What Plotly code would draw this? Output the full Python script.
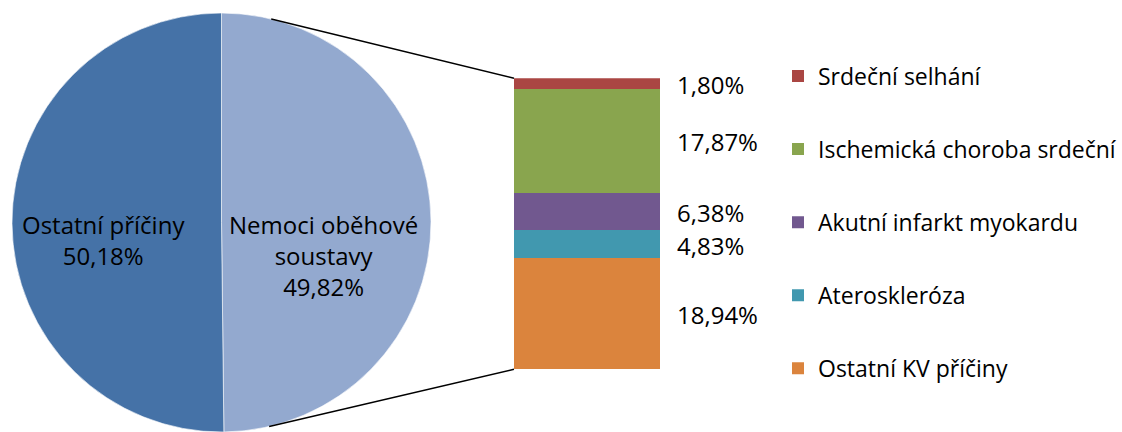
import math
import plotly.graph_objects as go

# ---------------- data ----------------
pie_labels = ["Nemoci oběhové soustavy", "Ostatní příčiny"]
pie_text_lines = [["Nemoci oběhové", "soustavy"], ["Ostatní příčiny"]]
pie_values = [49.82, 50.18]
pie_colors = ["#93A9CF", "#4572A7"]

bar_labels = ["Srdeční selhání", "Ischemická choroba srdeční", "Akutní infarkt myokardu",
              "Ateroskleróza", "Ostatní KV příčiny"]          # top -> bottom
bar_values = [1.80, 17.87, 6.38, 4.83, 18.94]
bar_colors = ["#AA4643", "#89A54E", "#71588F", "#4198AF", "#DB843D"]

def fmt(v):
    return f"{v:.2f}".replace(".", ",") + "%"

# ---------------- layout geometry (pixels) ----------------
W, H = 1122, 432
FONT = "Open Sans"
FS = 24
FS_LEG = 23

pie_cx, pie_r = 221.5, 209.5
pie_dom_x = [(pie_cx - pie_r) / W, (pie_cx + pie_r) / W]
pie_dom_y = [0, (2 * pie_r) / H]
pie_cy = H - pie_r  # from top

bar_left, bar_right = 514, 660
bar_top, bar_bottom = 78.3, 369.3
bar_dom_x = [bar_left / W, bar_right / W]
bar_dom_y = [1 - bar_bottom / H, 1 - bar_top / H]

fig = go.Figure()

fig.add_trace(go.Pie(
    labels=pie_labels, values=pie_values, sort=False, direction="clockwise", rotation=0,
    marker=dict(colors=pie_colors, line=dict(color="white", width=0.6)),
    textinfo="none", hoverinfo="label+percent", showlegend=False,
    domain=dict(x=pie_dom_x, y=pie_dom_y),
))

total = sum(bar_values)
# stack bottom -> top
n = len(bar_labels)
cum = 0.0
centers = {}
for i in reversed(range(n)):
    fig.add_trace(go.Bar(
        x=[0], y=[bar_values[i]], name=bar_labels[i], width=1,
        marker=dict(color=bar_colors[i], line=dict(width=0)),
        legendgroup=f"g{i}", legendrank=i, hoverinfo="name+y",
    ))
    centers[i] = cum + bar_values[i] / 2
    cum += bar_values[i]

annotations = []
for i in range(n):
    annotations.append(dict(
        x=0.5, y=centers[i], xref="x", yref="y", xanchor="left", yanchor="middle",
        xshift=15, yshift=-0.5, showarrow=False, text=fmt(bar_values[i]),
        font=dict(family=FONT, size=FS, color="#000000"),
    ))

# pie labels
pie_label_pos = {0: 323, 1: 103}   # x pixel centres of inside labels
for j in range(len(pie_labels)):
    lines = pie_text_lines[j] + [fmt(pie_values[j])]
    annotations.append(dict(
        x=pie_label_pos[j] / W, y=1 - 225 / H, xref="paper", yref="paper",
        xanchor="center", yanchor="top", yshift=19.5, showarrow=False,
        text="<br>".join(lines), align="center",
        font=dict(family=FONT, size=FS, color="#000000"),
    ))

# connector lines: tangents from bar corners to the pie circle
def tangent(px, py, upper):
    dx, dy = px - pie_cx, py - pie_cy
    d = math.hypot(dx, dy)
    a = math.atan2(dy, dx)
    b = math.acos(pie_r / d)
    ang = a - b if upper else a + b
    return pie_cx + pie_r * math.cos(ang), pie_cy + pie_r * math.sin(ang)

shapes = []
for (px, py, upper) in [(bar_left, bar_top, True), (bar_left, bar_bottom, False)]:
    tx, ty = tangent(px, py, upper)
    shapes.append(dict(type="line", xref="paper", yref="paper",
                       x0=tx / W, y0=1 - ty / H, x1=px / W, y1=1 - py / H,
                       line=dict(color="#000000", width=1.5)))

fig.update_layout(
    width=W, height=H, margin=dict(l=0, r=0, t=0, b=0),
    paper_bgcolor="white", plot_bgcolor="white",
    barmode="stack", bargap=0,
    xaxis=dict(domain=bar_dom_x, range=[-0.5, 0.5], visible=False, fixedrange=True),
    yaxis=dict(domain=bar_dom_y, range=[0, total], visible=False, fixedrange=True),
    legend=dict(x=778 / W, y=1 - 54.5 / H, xanchor="left", yanchor="top",
                traceorder="grouped", tracegroupgap=40.2,
                font=dict(family=FONT, size=FS_LEG, color="#000000"),
                bgcolor="rgba(0,0,0,0)"),
    annotations=annotations, shapes=shapes,
    font=dict(family=FONT, size=FS),
)

fig.write_html("out.html")
